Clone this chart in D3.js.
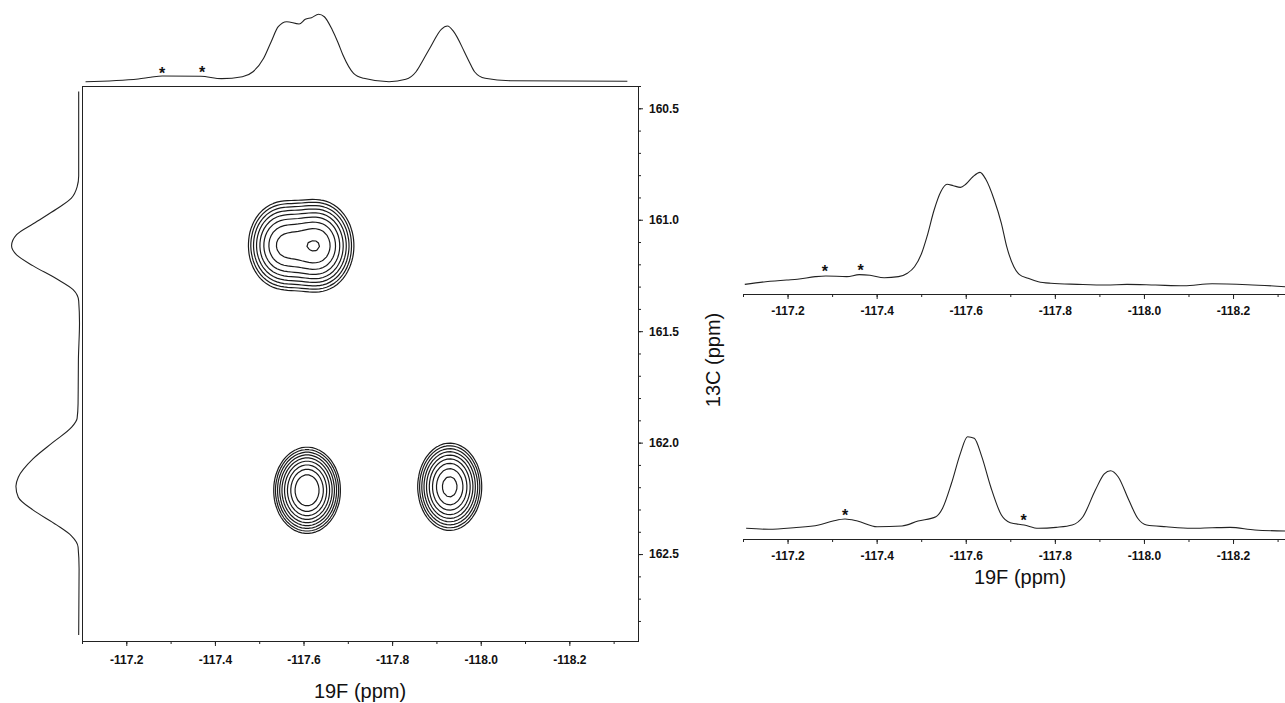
<!DOCTYPE html>
<html>
<head>
<meta charset="utf-8">
<script src="https://cdn.jsdelivr.net/npm/d3@7"></script>
<style>
    body { margin: 0; background: #fff; }
    svg { display: block; font-family: "Liberation Sans", Arial, Helvetica, sans-serif; }
    .axis text { font-size: 12px; font-weight: bold; fill: #111; }
    .axis path, .axis line { stroke: #222; }
    .frame { fill: none; stroke: #222; }
    .trace { fill: none; stroke: #222; stroke-width: 1.1; }
    .contour { fill: none; stroke: #1a1a1a; stroke-width: 1.2; }
    .star { font-size: 16px; font-weight: bold; text-anchor: middle; fill: #111; }
    .title { font-size: 20px; text-anchor: middle; fill: #111; }
</style>
</head>
<body>
<svg class="chart"></svg>
<script>

//
// 19F-13C 2D correlation spectrum with its projections, plus two 1D 19F traces.
//

var fTicks = [-117.2, -117.4, -117.6, -117.8, -118.0, -118.2]; // 19F tick labels (ppm)
var cTicks = [160.5, 161.0, 161.5, 162.0, 162.5]; // 13C tick labels (ppm)

var fProjection = [ // [19F ppm, intensity %] skyline above the 2D plot
    [-117.108, 0.4], [-117.227, 4.4], [-117.255, 6.9], [-117.281, 8.8], [-117.368, 8.4], [-117.415, 4.9],
    [-117.462, 7.8], [-117.486, 15.1], [-117.510, 34.9], [-117.527, 59.3], [-117.543, 81.3], [-117.562, 88.7],
    [-117.590, 85.3], [-117.604, 92.2], [-117.618, 94.6], [-117.634, 99.6], [-117.647, 96.0], [-117.665, 76.5],
    [-117.678, 57.8], [-117.689, 39.7], [-117.713, 12.8], [-117.736, 5.4], [-117.793, 0.4], [-117.831, 4.0],
    [-117.854, 15.1], [-117.870, 32.4], [-117.887, 51.9], [-117.911, 77.5], [-117.925, 82.4], [-117.939, 74.0],
    [-117.963, 44.6], [-117.974, 29.9], [-117.986, 15.1], [-118.010, 5.4], [-118.067, 1.9], [-118.331, 1.0]
];

var cProjection = [ // [13C ppm, intensity %] skyline left of the 2D plot
    [160.425, 1.2], [160.804, 1.2], [160.853, 3.5], [160.903, 11.9], [160.952, 33.8], [161.018, 68.1],
    [161.067, 92.5], [161.117, 99.9], [161.158, 92.5], [161.207, 68.1], [161.265, 33.8], [161.314, 9.4],
    [161.364, 1.2], [161.463, 0.0], [161.627, 1.6], [161.825, 2.1], [161.891, 3.5], [161.932, 11.9],
    [161.998, 38.7], [162.072, 68.1], [162.155, 90.0], [162.196, 93.5], [162.245, 90.0], [162.303, 68.1],
    [162.369, 33.8], [162.418, 11.9], [162.468, 2.1], [162.567, 0.6], [162.863, 1.2]
];

var upperSpectrum = [ // [19F ppm, intensity %] upper right trace
    [-117.104, 4.8], [-117.151, 7.0], [-117.198, 8.5], [-117.222, 9.1], [-117.262, 11.3], [-117.286, 11.9],
    [-117.333, 11.3], [-117.361, 13.0], [-117.385, 12.5], [-117.417, 10.4], [-117.449, 11.3], [-117.469, 14.2],
    [-117.485, 19.7], [-117.501, 31.1], [-117.513, 45.2], [-117.529, 67.8], [-117.544, 83.3], [-117.558, 89.6],
    [-117.572, 88.4], [-117.588, 87.0], [-117.600, 89.6], [-117.616, 96.0], [-117.632, 99.7], [-117.645, 93.8],
    [-117.664, 76.3], [-117.680, 56.5], [-117.692, 36.7], [-117.708, 19.7], [-117.720, 13.3], [-117.740, 9.9],
    [-117.763, 7.0], [-117.791, 5.7], [-117.851, 4.8], [-117.915, 4.2], [-117.962, 4.8], [-118.026, 4.2],
    [-118.090, 3.6], [-118.153, 5.3], [-118.233, 4.5], [-118.317, 2.8]
];

var lowerSpectrum = [ // [19F ppm, intensity %] lower right trace
    [-117.107, 6.8], [-117.158, 5.8], [-117.214, 7.4], [-117.270, 10.2], [-117.302, 14.2], [-117.329, 16.3],
    [-117.357, 14.2], [-117.401, 8.4], [-117.457, 9.2], [-117.493, 14.2], [-117.533, 18.6], [-117.548, 27.2],
    [-117.568, 52.6], [-117.588, 83.1], [-117.604, 100], [-117.619, 98.4], [-117.636, 79.7], [-117.656, 49.1],
    [-117.680, 20.3], [-117.700, 12.5], [-117.731, 10.2], [-117.763, 6.8], [-117.803, 7.8], [-117.839, 10.2],
    [-117.863, 18.6], [-117.891, 45.8], [-117.911, 62.1], [-117.925, 65.4], [-117.942, 59.3], [-117.966, 35.6],
    [-117.986, 17.0], [-118.006, 10.2], [-118.050, 8.4], [-118.106, 6.8], [-118.153, 7.4], [-118.193, 7.8],
    [-118.249, 5.1], [-118.317, 4.1]
];

var fProjectionStars = [[-117.281, 16.2], [-117.371, 17.6]]; // [ppm, height] of the * marks
var upperStars = [[-117.284, 17.5], [-117.364, 18.4]];
var lowerStars = [[-117.329, 22.7], [-117.730, 17.6]];

var peakF = [-117.550, -117.635, -117.608, -117.930]; // cross peaks
var peakC = [161.115, 161.117, 162.214, 162.198];
var peakHeight = [0.56, 0.685, 1.00, 0.83];
var peakWidthF = [0.040, 0.040, 0.035, 0.035]; // gaussian sigma, 19F ppm
var peakWidthC = [0.103, 0.103, 0.090, 0.095]; // gaussian sigma, 13C ppm
var contourLevels = [0.10, 0.128, 0.165, 0.212, 0.272, 0.349, 0.449, 0.576, 0.74];

window.onload = function () {

    var width = 1285, height = 703;
    var svg = d3.select("svg.chart").attr("width", width).attr("height", height);

    var toText = function (d) { return d.toFixed(1); }; // keep the plain hyphen minus

    // --- 2D map -----------------------------------------------------------
    var fStart = -117.1, fEnd = -118.355, cStart = 160.4, cEnd = 162.89;
    var f2 = d3.scaleLinear().domain([fStart, fEnd]).range([82, 638]);
    var c2 = d3.scaleLinear().domain([cStart, cEnd]).range([86, 641]);

    svg.append("rect").attr("class", "frame")
        .attr("x", 82.5).attr("y", 86.5).attr("width", 556).attr("height", 555);

    var fStep = 0.008, cStep = 0.016; // grid used for the contour lines
    var nx = Math.floor((fStart - fEnd) / fStep) + 1;
    var ny = Math.floor((cEnd - cStart) / cStep) + 1;
    var grid = new Float64Array(nx * ny);
    for (var j = 0; j < ny; j++) {
        for (var i = 0; i < nx; i++) {
            var f = fStart - i * fStep, c = cStart + j * cStep, v = 0;
            for (var k = 0; k < peakF.length; k++) {
                var df = (f - peakF[k]) / peakWidthF[k], dc = (c - peakC[k]) / peakWidthC[k];
                v += peakHeight[k] * Math.exp(-0.5 * (df * df + dc * dc));
            }
            grid[i + j * nx] = v;
        }
    }
    var rings = d3.contours().size([nx, ny]).thresholds(contourLevels)(grid);
    var toPage = d3.geoTransform({ point: function (px, py) { // grid cell -> ppm -> page
        this.stream.point(f2(fStart - (px - 0.5) * fStep), c2(cStart + (py - 0.5) * cStep));
    } });
    svg.append("g").selectAll("path").data(rings).join("path")
        .attr("class", "contour").attr("d", d3.geoPath(toPage));

    var fMinor = d3.range(1171, 1184).map(function (v) { return -v / 10; });
    var cMinor = d3.range(1604, 1629).map(function (v) { return v / 10; });

    svg.append("g").attr("class", "axis").attr("transform", "translate(0,641)")
        .call(d3.axisBottom(f2).tickValues(fMinor).tickSize(3).tickSizeOuter(0).tickFormat(""));
    svg.append("g").attr("class", "axis").attr("transform", "translate(0,641)")
        .call(d3.axisBottom(f2).tickValues(fTicks).tickSize(5).tickSizeOuter(0).tickPadding(9).tickFormat(toText))
        .call(function (g) { g.select(".domain").remove(); });

    svg.append("g").attr("class", "axis").attr("transform", "translate(638,0)")
        .call(d3.axisRight(c2).tickValues(cMinor).tickSize(3).tickSizeOuter(0).tickFormat(""));
    svg.append("g").attr("class", "axis").attr("transform", "translate(638,0)")
        .call(d3.axisRight(c2).tickValues(cTicks).tickSize(5).tickSizeOuter(0).tickPadding(6).tickFormat(toText))
        .call(function (g) { g.select(".domain").remove(); });

    // projections on top and left
    var topY = d3.scaleLinear().domain([0, 100]).range([82, 14]);
    var leftX = d3.scaleLinear().domain([0, 100]).range([79.5, 11.5]);

    svg.append("path").datum(fProjection).attr("class", "trace")
        .attr("d", d3.line().x(function (d) { return f2(d[0]); }).y(function (d) { return topY(d[1]); }).curve(d3.curveMonotoneX));
    svg.append("path").datum(cProjection).attr("class", "trace")
        .attr("d", d3.line().x(function (d) { return leftX(d[1]); }).y(function (d) { return c2(d[0]); }).curve(d3.curveMonotoneY));

    // --- right hand 1D traces -----------------------------------------------
    var fR = d3.scaleLinear().domain([-117.1, -118.32]).range([743, 1286.5]);
    var upperY = d3.scaleLinear().domain([0, 100]).range([290, 172]);
    var lowerY = d3.scaleLinear().domain([0, 100]).range([535, 436.7]);
    var rMinor = d3.range(1171, 1184).map(function (v) { return -v / 10; });

    [[upperSpectrum, upperY, 294, upperStars], [lowerSpectrum, lowerY, 539, lowerStars]].forEach(function (panel) {
        var yS = panel[1];
        svg.append("path").datum(panel[0]).attr("class", "trace")
            .attr("d", d3.line().x(function (d) { return fR(d[0]); }).y(function (d) { return yS(d[1]); }).curve(d3.curveMonotoneX));
        svg.append("g").attr("class", "axis").attr("transform", "translate(0," + panel[2] + ")")
            .call(d3.axisBottom(fR).tickValues(rMinor).tickSize(3).tickSizeOuter(0).tickFormat(""));
        svg.append("g").attr("class", "axis").attr("transform", "translate(0," + panel[2] + ")")
            .call(d3.axisBottom(fR).tickValues(fTicks).tickSize(5).tickSizeOuter(0).tickPadding(7).tickFormat(toText))
            .call(function (g) { g.select(".domain").remove(); });
        svg.append("g").selectAll("text").data(panel[3]).join("text")
            .attr("class", "star")
            .attr("x", function (d) { return fR(d[0]); })
            .attr("y", function (d) { return yS(d[1]) + 8; })
            .text("*");
    });

    svg.append("g").selectAll("text").data(fProjectionStars).join("text")
        .attr("class", "star")
        .attr("x", function (d) { return f2(d[0]); })
        .attr("y", function (d) { return topY(d[1]) + 8; })
        .text("*");

    // --- axis titles ----------------------------------------------------------
    svg.append("text").attr("class", "title").attr("x", 360).attr("y", 698).text("19F (ppm)");
    svg.append("text").attr("class", "title").attr("x", 1020).attr("y", 584).text("19F (ppm)");
    svg.append("text").attr("class", "title").attr("transform", "translate(720,360) rotate(-90)").text("13C (ppm)");
};

</script>
</body>
</html>
